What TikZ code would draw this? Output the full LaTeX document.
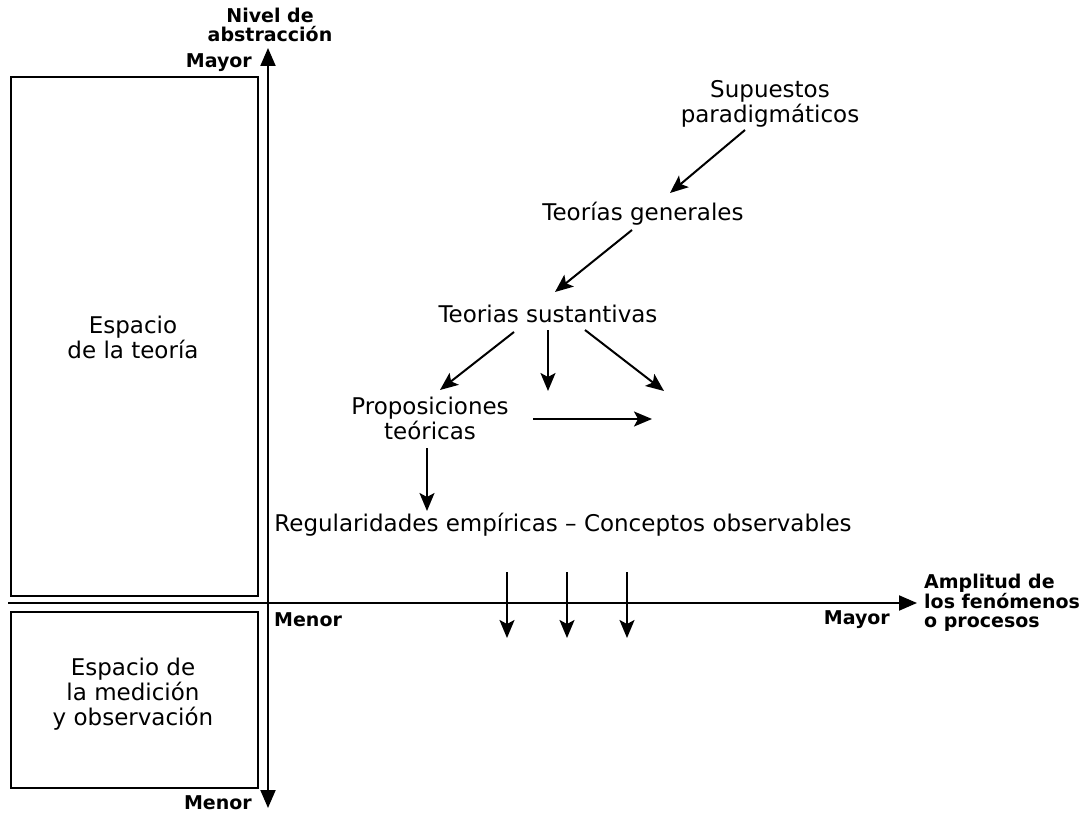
\documentclass[tikz,border=0pt]{standalone}
\usepackage{fontspec}
\setmainfont{DejaVu Sans}
\usetikzlibrary{arrows.meta}
\tikzset{
  big/.style={font=\fontsize{23}{25}\selectfont, align=center, inner sep=0pt},
  small/.style={font=\fontsize{19}{19.5}\selectfont\bfseries, inner sep=0pt},
  box/.style={draw, line width=2pt},
  axis/.style={line width=2pt, -{Triangle[length=18pt,width=15pt]}},
  arr/.style={line width=2pt, -{Stealth[length=18pt,width=15pt,inset=4pt]}},
}
\begin{document}
\begin{tikzpicture}[x=1pt,y=-1pt]
\useasboundingbox (0,0) rectangle (1085,813);
% boxes
\draw[box] (11,77) rectangle (258,596);
\draw[box] (11,612) rectangle (258,788);
% axes
\coordinate (vtop) at (268,48);
\coordinate (vbot) at (268,808);
\coordinate (hl) at (8,603);
\coordinate (hr) at (917,603);
\coordinate (vmid) at (268,603);
\draw[axis] (vmid) -- (vtop);
\draw[axis] (vmid) -- (vbot);
\draw[line width=2pt] (hl) -- (vmid);
\draw[axis] (vmid) -- (hr);
% axis labels
\node[small, align=center] (nivel) at (270,25) {Nivel de\\abstracción};
\node[small, anchor=east] (mayv) at (252,63) {Mayor};
\node[small, anchor=east] (menv) at (252,803) {Menor};
\node[small, anchor=west] (menh) at (274,620) {Menor};
\node[small, anchor=east] (mayh) at (890,620) {Mayor};
\node[small, align=left, anchor=west] (ampl) at (924,603) {Amplitud de\\los fenómenos\\o procesos};
% spaces
\node[big] (teo) at (133,337) {Espacio\\de la teoría};
\node[big] (med) at (133,694) {Espacio de\\la medición\\y observación};
% concepts
\node[big] (sup) at (770,104) {Supuestos\\paradigmáticos};
\node[big] (gen) at (643,214) {Teorías generales};
\node[big] (sus) at (548,314) {Teorias sustantivas};
\node[big] (prop) at (430,418) {Proposiciones\\teóricas};
\node[big] (reg) at (563,525) {Regularidades empíricas – Conceptos observables};
% arrows
\draw[arr] ([shift={(-25,26)}]sup.center) -- ([shift={(27,-21)}]gen.center);
\draw[arr] ([shift={(-11,16)}]gen.center) -- ([shift={(7,-22)}]sus.center);
\coordinate (c1) at (548,391);
\coordinate (c2) at (664,391);
\coordinate (c3) at (652,419);
\draw[arr] ([shift={(-34,18)}]sus.center) -- ([shift={(10,-28)}]prop.center);
\draw[arr] ([shift={(0,16)}]sus.center) -- (c1);
\draw[arr] ([shift={(37,16)}]sus.center) -- (c2);
\draw[arr] ([shift={(103,1)}]prop.center) -- (c3);
\draw[arr] ([shift={(-3,30)}]prop.center) -- ([shift={(-136,-14)}]reg.center);
% down arrows crossing axis
\coordinate (d1s) at (507,572); \coordinate (d1e) at (507,638);
\coordinate (d2s) at (567,572); \coordinate (d2e) at (567,638);
\coordinate (d3s) at (627,572); \coordinate (d3e) at (627,638);
\draw[arr] (d1s) -- (d1e);
\draw[arr] (d2s) -- (d2e);
\draw[arr] (d3s) -- (d3e);
\end{tikzpicture}
\end{document}
